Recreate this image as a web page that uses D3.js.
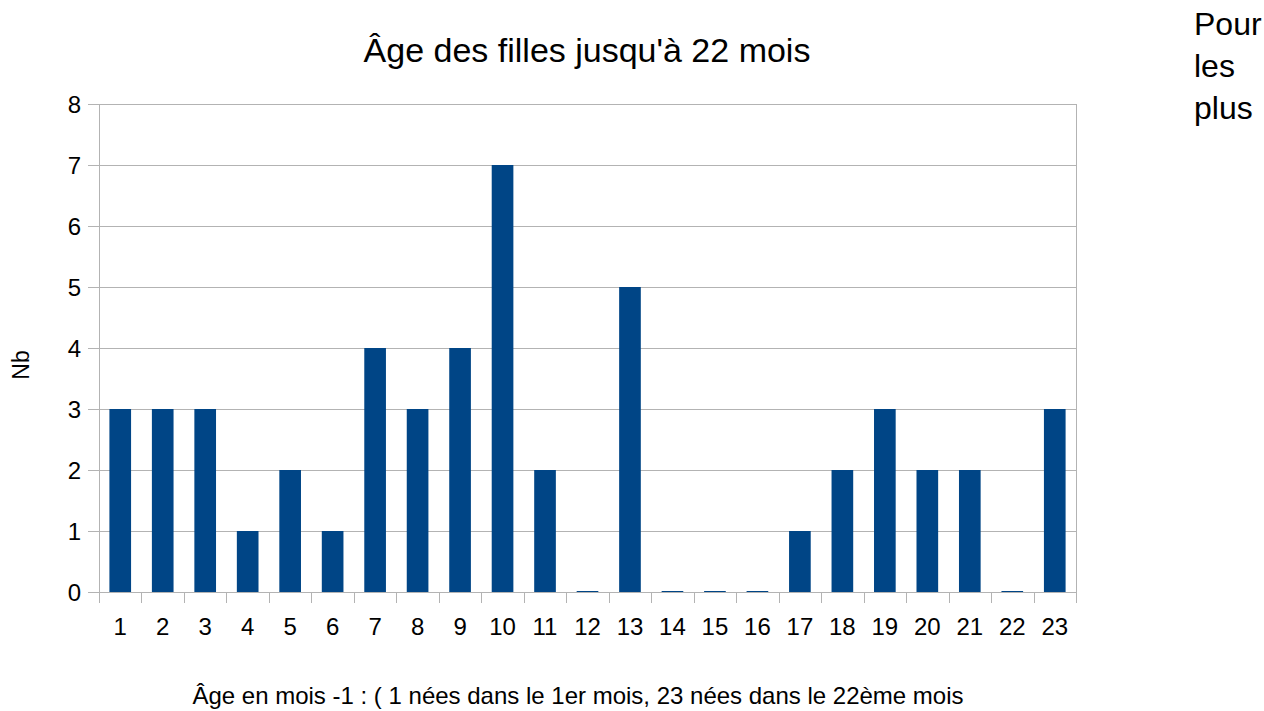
<!DOCTYPE html>
<html>
<head>
<meta charset="utf-8">
<script src="https://cdn.jsdelivr.net/npm/d3@7"></script>
<style>
  body { margin: 0; background: #fff; }
  svg { display: block; font-family: "Liberation Sans", Arial, sans-serif; }
</style>
</head>
<body>
<script>
const wdth = 1264;
const hght = 711;

const months = d3.range(1, 24).map(String);
const counts = [3, 3, 3, 1, 2, 1, 4, 3, 4, 7, 2, 0, 5, 0, 0, 0, 1, 2, 3, 2, 2, 0, 3];
const yTicks = [0, 1, 2, 3, 4, 5, 6, 7, 8];
const sideNote = ["Pour", "les", "plus"];

const plot = { left: 99, right: 1076, top: 104, bottom: 592 };

const svg = d3.select("body").append("svg")
  .attr("width", wdth)
  .attr("height", hght);

const x = d3.scaleBand()
  .domain(months)
  .range([plot.left, plot.right])
  .paddingInner(0.49)
  .paddingOuter(0.245);

const xEdges = d3.scaleBand().domain(months).range([plot.left, plot.right]);

const y = d3.scaleLinear().domain([0, 8]).range([plot.bottom, plot.top]);

// grid
svg.append("g")
  .selectAll("line")
  .data(yTicks)
  .enter()
  .append("line")
  .attr("x1", plot.left - 11)
  .attr("x2", plot.right)
  .attr("y1", d => Math.round(y(d)) + 0.5)
  .attr("y2", d => Math.round(y(d)) + 0.5)
  .attr("stroke", "#b3b3b3")
  .attr("stroke-width", 1);

// right border
svg.append("line")
  .attr("x1", plot.right + 0.5).attr("x2", plot.right + 0.5)
  .attr("y1", plot.top).attr("y2", plot.bottom)
  .attr("stroke", "#b3b3b3");

// y axis line
svg.append("line")
  .attr("x1", plot.left + 0.5).attr("x2", plot.left + 0.5)
  .attr("y1", plot.top).attr("y2", plot.bottom + 11)
  .attr("stroke", "#b3b3b3");

// x ticks at band edges
svg.append("g")
  .selectAll("line")
  .data(months)
  .enter()
  .append("line")
  .attr("x1", d => Math.round(xEdges(d) + xEdges.bandwidth()) + 0.5)
  .attr("x2", d => Math.round(xEdges(d) + xEdges.bandwidth()) + 0.5)
  .attr("y1", plot.bottom)
  .attr("y2", plot.bottom + 11)
  .attr("stroke", "#b3b3b3");

// bars (zero values still show a thin line)
svg.append("g")
  .selectAll("rect")
  .data(counts)
  .enter()
  .append("rect")
  .attr("x", (d, i) => x(months[i]))
  .attr("width", x.bandwidth())
  .attr("y", d => d === 0 ? y(0) - 1 : y(d))
  .attr("height", d => d === 0 ? 1 : y(0) - y(d))
  .attr("fill", "#004586");

// y tick labels
svg.append("g")
  .selectAll("text")
  .data(yTicks)
  .enter()
  .append("text")
  .text(d => d)
  .attr("x", 81)
  .attr("y", d => y(d) + 9)
  .attr("text-anchor", "end")
  .attr("font-size", 24)
  .attr("fill", "#000");

// x tick labels
svg.append("g")
  .selectAll("text")
  .data(months)
  .enter()
  .append("text")
  .text(d => d)
  .attr("x", d => x(d) + x.bandwidth() / 2)
  .attr("y", 635)
  .attr("text-anchor", "middle")
  .attr("font-size", 24)
  .attr("fill", "#000");

// title
svg.append("text")
  .text("Âge des filles jusqu'à 22 mois")
  .attr("x", 587)
  .attr("y", 62)
  .attr("text-anchor", "middle")
  .attr("font-size", 34);

// axis titles
svg.append("text")
  .text("Nb")
  .attr("transform", "translate(29,365) rotate(-90)")
  .attr("text-anchor", "middle")
  .attr("font-size", 23);

svg.append("text")
  .text("Âge en mois -1 : ( 1 nées dans le 1er mois, 23 nées dans le 22ème mois")
  .attr("x", 578)
  .attr("y", 704)
  .attr("text-anchor", "middle")
  .attr("font-size", 24);

// side note
svg.append("g")
  .selectAll("text")
  .data(sideNote)
  .enter()
  .append("text")
  .text(d => d)
  .attr("x", 1194)
  .attr("y", (d, i) => 35 + i * 42)
  .attr("font-size", 32);
</script>
</body>
</html>
